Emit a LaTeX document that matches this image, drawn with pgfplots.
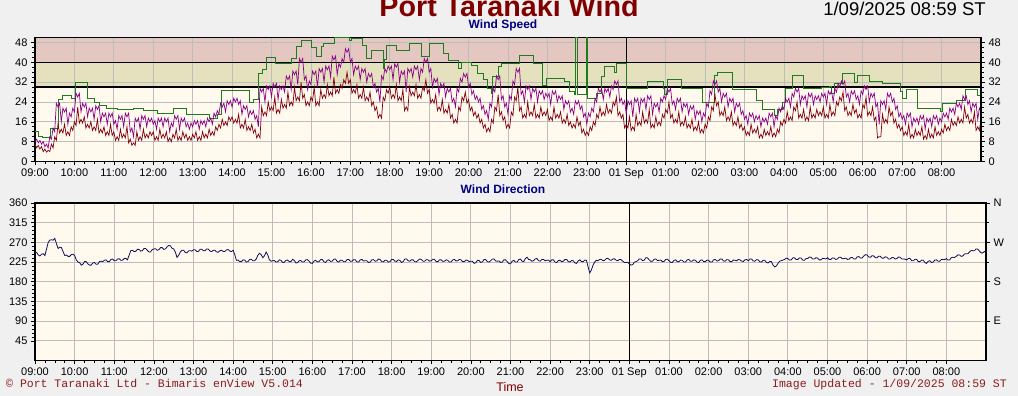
\documentclass[border=0pt]{standalone}
\usepackage{fontspec}
\setmainfont{Liberation Sans}
\newfontfamily\monofont{Liberation Mono}
\usepackage{pgfplots}
\usepackage{pgfplotstable}
\pgfplotsset{compat=1.18}
\usetikzlibrary{calc}
\definecolor{bggray}{HTML}{F0F0F0}
\definecolor{cream}{HTML}{FFF9EE}
\definecolor{pinkband}{HTML}{E5C7C1}
\definecolor{khakiband}{HTML}{E5E1BE}
\definecolor{gridgray}{HTML}{BDBDBD}
\definecolor{darkred}{HTML}{800010}
\definecolor{purp}{HTML}{8A008A}
\definecolor{dgreen}{HTML}{1E7B1E}
\definecolor{navy}{HTML}{000080}
\definecolor{dirnavy}{HTML}{10105A}
\definecolor{titlered}{HTML}{800000}
\definecolor{footred}{HTML}{8C1C1C}

\pgfplotstableread{
t m g d
0 7 8 248
2.5 5.5 9 247
5 6.5 7.5 241
7.5 5 8.5 239
10 6 7 243
12.5 4 8 244
15 5 6 240
17.5 3.8 7 255
20 4.5 5.5 270
22.5 4 10 275
25 7 9 276
27.5 5.5 13.5 275
30 10 12 279
32.5 8.5 23.5 267
35 15 22 256
37.5 11.5 23.5 259
40 13 16 258
42.5 11.5 21.5 249
45 15 20 240
47.5 10.5 21.5 241
50 12 15 238
52.5 10.5 19.5 238
55 14 18 242
57.5 12.5 21.5 243
60 16 20 240
62.5 14.5 27.5 230
65 22 26 225
67.5 15.5 27.5 224
70 17 20 218
72.5 15.5 23.5 220
75 18 22 226
77.5 13.5 23.5 226
80 15 18 221
82.5 13.5 21.5 218
85 16 20 218
87.5 12.5 21.5 223
90 14 17 224
92.5 12.5 22.5 220
95 17 21 220
97.5 11.5 22.5 226
100 13 16 227
102.5 11.5 19.5 226
105 14 18 229
107.5 10.5 19.5 230
110 12 15 226
112.5 10.5 19.5 226
115 15 18 231
117.5 10.5 19.5 232
120 12 15 228
122.5 8.5 16.5 228
125 10 13 232
127.5 8.5 18.5 232.5
130 13 17 229
132.5 9.5 18.5 229
135 11 14 233
137.5 9.5 19.5 233.5
140 14 18 230
142.5 7.5 19.5 240.5
145 9 12 251
147.5 6.5 13.5 252
150 7.5 10 249
152.5 6.5 17.5 249.5
155 12 16 254
157.5 8.5 17.5 254
160 10 13 250
162.5 8.5 18.5 251
165 13 17 256
167.5 9.5 18.5 256
170 11 14 252
172.5 9.5 17.5 248
175 12 16 248
177.5 10.5 17.5 253.5
180 12 15 255
182.5 8.5 16.5 255.5
185 10 13 252
187.5 8.5 17.5 253
190 13 16 258
192.5 9.5 17.5 258
195 11 14 254
197.5 9.5 17.5 255
200 12 16 260
202.5 8 17.5 263
205 9.5 12 262
207.5 8 15.5 256.5
210 11 14 255
212.5 9.5 18.5 247.5
215 13 17 236
217.5 8.5 18.5 240
220 10 13 248
222.5 8.5 17.5 252
225 12 16 252
227.5 9.5 17.5 247
230 11 14 246
232.5 8.5 15.5 250.5
235 10 13 251
237.5 8.5 15.5 250
240 11 14 253
242.5 9.5 16.5 253
245 12 15 249
247.5 8.5 16.5 249.5
250 10 13 254
252.5 8.5 16.5 254.5
255 12 15 251
257.5 9.5 16.5 251
260 11 14 255
262.5 9.5 17.5 254.5
265 13 16 250
267.5 10.5 17.5 249
270 12 15 252
272.5 10.5 19.5 252
275 14 18 248
277.5 12.5 20.5 247.5
280 15 19 251
282.5 13.5 23.5 252
285 17 22 249
287.5 14.5 23.5 249
290 16 20 253
292.5 14.5 24.5 253.5
295 18 23 250
297.5 16.5 24.5 249
300 18 22 252
302.5 15.5 25.5 242
305 17 24 229
307.5 15.5 25.5 229.5
310 19 23 226
312.5 13.5 24.5 226
315 15 19 230
317.5 13.5 22.5 229.5
320 17 21 225
322.5 12.5 22.5 226
325 14 18 231
327.5 12.5 20.5 231.5
330 15 19 228
332.5 11.5 20.5 228
335 13 17 232
337.5 9.5 18.5 240.5
340 11 14 245
342.5 9.5 29.5 242
345 22 28 235
347.5 18.5 29.5 239.5
350 20 24 248
352.5 18.5 30.5 241
355 24 29 230
357.5 20.5 30.5 227
360 22 26 228
362.5 20.5 31.5 228.5
365 26 30 225
367.5 19.5 31.5 225.5
370 21 25 230
372.5 19.5 30.5 229
375 25 29 224
377.5 21.5 30.5 224.5
380 23 28 229
382.5 21.5 34.5 229.5
385 28 33 226
387.5 22.5 34.5 226
390 24 29 231
392.5 22.5 36.5 229
395 30 35 223
397.5 24.5 36.5 223.5
400 26 31 228
402.5 24.5 41.5 228.5
405 32 40 225
407.5 25.5 41.5 225.5
410 27 33 230
412.5 22.5 34.5 230.5
415 24 29 227
417.5 22.5 32.5 222.5
420 26 31 222
422.5 24.5 36.5 227.5
425 30 35 229
427.5 22.5 36.5 225.5
430 24 30 226
432.5 22.5 37.5 230.5
435 29 36 231
437.5 25.5 37.5 225.5
440 27 32 224
442.5 25.5 38.5 229
445 31 37 230
447.5 26.5 38.5 226.5
450 28 34 227
452.5 26.5 42.5 231.5
455 34 41 232
457.5 27.5 42.5 226.5
460 29 35 225
462.5 27.5 39.5 229
465 31 38 229
467.5 29.5 41.5 225.5
470 33 40 226
472.5 31.5 45.5 230.5
475 36 44 231
477.5 31.5 45.5 227
480 33 40 227
482.5 27.5 41.5 230.5
485 29 35 230
487.5 27.5 38.5 225.5
490 31 37 225
492.5 25.5 38.5 230
495 27 33 231
497.5 25.5 37.5 227.5
500 30 36 228
502.5 24.5 37.5 228
505 26 32 224
507.5 24.5 35.5 225
510 28 34 230
512.5 22.5 35.5 230.5
515 24 30 227
517.5 20.5 31.5 227.5
520 22 28 232
522.5 17.5 29.5 231
525 19 24 226
527.5 17.5 34.5 225.5
530 26 33 229
532.5 24.5 37.5 229
535 29 36 225
537.5 27.5 38.5 226
540 30 37 231
542.5 25.5 38.5 231
545 27 33 227
547.5 25.5 39.5 226.5
550 31 38 230
552.5 24.5 39.5 229
555 26 32 224
557.5 24.5 36.5 226
560 29 35 232
562.5 20.5 36.5 232
565 22 28 228
567.5 20.5 37.5 227
570 30 36 230
572.5 26.5 37.5 230
575 28 34 226
577.5 26.5 38.5 225.5
580 31 37 229
582.5 25.5 38.5 232
585 27 33 231
587.5 25.5 37.5 227
590 30 36 227
592.5 28.5 41.5 230.5
595 33 40 230
597.5 27.5 41.5 227
600 29 36 228
602.5 23.5 37.5 231.5
605 25 30 231
607.5 23.5 33.5 226
610 27 32 226
612.5 20.5 33.5 230
615 22 27 230
617.5 20.5 31.5 226.5
620 25 30 227
622.5 19.5 31.5 230
625 21 26 229
627.5 19.5 29.5 225
630 23 28 225
632.5 17.5 29.5 230
635 19 24 231
637.5 15.5 25.5 227.5
640 17 22 228
642.5 15.5 29.5 231
645 22 28 230
647.5 20.5 33.5 226
650 26 32 226
652.5 24.5 35.5 229.5
655 28 34 229
657.5 23.5 35.5 226
660 25 30 227
662.5 20.5 31.5 226.5
665 22 27 222
667.5 18.5 28.5 223.5
670 20 25 229
672.5 17.5 26.5 228.5
675 19 24 224
677.5 15.5 25.5 225.5
680 17 21 231
682.5 13.5 22.5 230.5
685 15 19 226
687.5 12 20.5 225
690 13.5 17 228
692.5 12 23.5 232
695 17 22 232
697.5 15.5 29.5 227.5
700 22 28 227
702.5 20.5 34.5 227.5
705 27 33 224
707.5 18.5 34.5 225
710 20 25 230
712.5 16.5 26.5 230
715 18 22 226
717.5 13.5 23.5 221.5
720 15 19 221
722.5 13.5 26.5 227
725 20 25 229
727.5 18.5 32.5 225
730 26 31 225
732.5 24.5 37.5 230.5
735 30 36 232
737.5 20.5 37.5 227
740 22 27 226
742.5 17.5 28.5 233
745 19 24 236
747.5 17.5 30.5 231
750 24 29 230
752.5 18.5 30.5 227
755 20 25 228
757.5 18.5 29.5 232.5
760 23 28 233
762.5 17.5 29.5 228
765 19 24 227
767.5 17.5 28.5 231
770 22 27 231
772.5 18.5 28.5 228
775 20 25 229
777.5 18.5 27.5 229.5
780 21 26 226
782.5 16.5 27.5 230
785 18 23 230
787.5 16.5 28.5 225
790 22 27 224
792.5 17.5 28.5 228.5
795 19 24 229
797.5 17.5 26.5 226
800 20 25 227
802.5 15.5 26.5 231
805 17 21 231
807.5 15.5 24.5 226
810 19 23 225
812.5 14.5 24.5 228.5
815 16 20 228
817.5 13.5 21.5 223
820 15 19 222
822.5 13.5 24.5 228
825 18 23 230
827.5 14.5 24.5 226
830 16 21 226
832.5 11.5 22.5 229.5
835 13 18 229
837.5 10.5 19.5 214
840 12 15 200
842.5 10.5 19.5 207
845 14 18 218
847.5 12.5 21.5 225
850 16 20 229
852.5 14.5 25.5 228
855 19 24 231
857.5 17.5 29.5 231.5
860 22 28 228
862.5 18.5 29.5 229
865 20 25 233
867.5 18.5 29.5 233.5
870 23 28 230
872.5 19.5 29.5 229
875 21 26 232
877.5 19.5 30.5 232.5
880 24 29 229
882.5 22.5 32.5 228
885 26 31 231
887.5 18.5 32.5 230.5
890 20 24 227
892.5 17.5 25.5 224
895 19 23 224
897.5 13.5 24.5 224.5
900 15 19 221
902.5 13.5 24.5 218
905 18 23 219
907.5 12.5 24.5 224.5
910 14 18 226
912.5 12.5 25.5 228
915 19 24 232
917.5 14.5 25.5 232
920 16 20 228
922.5 14.5 25.5 229.5
925 20 24 235
927.5 15.5 25.5 234.5
930 17 21 230
932.5 15.5 26.5 226.5
935 21 25 227
937.5 13.5 26.5 231.5
940 15 19 232
942.5 13.5 23.5 228.5
945 18 22 229
947.5 14.5 23.5 229.5
950 16 20 226
952.5 14.5 25.5 226.5
955 19 24 231
957.5 17.5 26.5 231.5
960 21 25 228
962.5 19.5 29.5 224
965 24 28 224
967.5 17.5 29.5 229
970 19 23 230
972.5 15.5 24.5 226
975 17 21 226
977.5 15.5 25.5 229.5
980 20 24 229
982.5 14.5 25.5 225
985 16 20 225
987.5 14.5 23.5 230
990 18 22 231
992.5 13.5 23.5 227
995 15 19 227
997.5 13.5 22.5 230
1000 17 21 229
1002.5 12.5 22.5 224.5
1005 14 17 224
1007.5 12.5 20.5 229
1010 16 19 230
1012.5 11.5 20.5 226
1015 13 16 226
1017.5 11.5 19.5 229.5
1020 15 18 229
1022.5 13.5 23.5 225
1025 18 22 225
1027.5 16.5 28.5 230
1030 22 27 231
1032.5 20.5 32.5 227.5
1035 27 31 228
1037.5 22.5 32.5 232
1040 24 28 232
1042.5 18.5 29.5 227.5
1045 20 24 227
1047.5 18.5 27.5 230.5
1050 22 26 230
1052.5 16.5 27.5 226
1055 18 22 226
1057.5 16.5 25.5 229.5
1060 20 24 229
1062.5 14.5 25.5 228
1065 16 20 231
1067.5 14.5 23.5 230
1070 18 22 227
1072.5 13.5 23.5 226.5
1075 15 19 230
1077.5 12.5 20.5 231
1080 14 17 228
1082.5 10.5 18.5 232
1085 12 15 232
1087.5 10.5 19.5 227.5
1090 15 18 227
1092.5 11.5 19.5 230.5
1095 13 16 230
1097.5 11.5 18.5 225.5
1100 14 17 225
1102.5 9.5 18.5 229
1105 11 14 229
1107.5 9.5 17.5 224
1110 13 16 223
1112.5 10.5 17.5 226.5
1115 12 15 226
1117.5 10.5 19.5 218
1120 14 18 214
1122.5 10 19.5 216
1125 11.5 14 222
1127.5 10 18.5 227
1130 13 17 228
1132.5 11.5 21.5 229.5
1135 16 20 231
1137.5 14.5 22.5 234
1140 17 21 233
1142.5 15.5 25.5 229.5
1145 20 24 230
1147.5 16.5 25.5 234.5
1150 18 22 235
1152.5 16.5 27.5 231
1155 22 26 231
1157.5 20.5 29.5 234.5
1160 24 28 234
1162.5 17.5 29.5 229.5
1165 19 23 229
1167.5 17.5 26.5 233
1170 21 25 233
1172.5 16.5 26.5 236.5
1175 18 22 236
1177.5 16.5 27.5 232
1180 22 26 232
1182.5 17.5 27.5 235
1185 19 23 234
1187.5 17.5 26.5 230
1190 21 25 230
1192.5 18.5 26.5 233.5
1195 20 24 233
1197.5 18.5 27.5 232
1200 22 26 235
1202.5 17.5 27.5 231
1205 19 23 231
1207.5 17.5 28.5 234.5
1210 23 27 234
1212.5 18.5 28.5 231
1215 20 24 232
1217.5 18.5 29.5 236
1220 24 28 236
1222.5 22.5 31.5 232.5
1225 26 30 233
1227.5 24.5 32.5 234
1230 28 31 231
1232.5 20.5 32.5 231.5
1235 22 26 235
1237.5 18.5 27.5 235.5
1240 20 24 232
1242.5 18.5 28.5 232
1245 23 27 237
1247.5 19.5 28.5 237.5
1250 21 25 234
1252.5 17.5 26.5 234.5
1255 19 23 239
1257.5 17.5 28.5 242
1260 23 27 241
1262.5 21.5 30.5 236.5
1265 26 29 236
1267.5 18.5 30.5 239.5
1270 20 24 239
1272.5 18.5 27.5 235
1275 22 26 235
1277.5 16.5 27.5 238.5
1280 18 22 238
1282.5 9.5 23.5 234
1285 10 15 234
1287.5 10 24.5 237
1290 19 23 236
1292.5 15.5 24.5 232
1295 17 21 232
1297.5 15.5 27.5 235.5
1300 22 26 235
1302.5 18.5 27.5 232
1305 20 24 233
1307.5 15.5 25.5 236.5
1310 17 21 236
1312.5 13.5 22.5 232
1315 15 18 232
1317.5 12.5 19.5 231.5
1320 14 17 230
1322.5 10.5 18.5 233
1325 12 15 233
1327.5 10.5 19.5 228
1330 15 18 228
1332.5 9.5 19.5 231.5
1335 11 14 231
1337.5 9.5 17.5 226
1340 13 16 226
1342.5 10.5 17.5 229.5
1345 12 15 229
1347.5 10.5 18.5 224
1350 14 17 222
1352.5 9 18.5 227
1355 10.5 13 228
1357.5 9 17.5 224
1360 13 16 225
1362.5 9.5 17.5 229.5
1365 11 14 230
1367.5 9.5 18.5 227
1370 14 17 227
1372.5 10.5 18.5 231
1375 12 15 231
1377.5 10.5 17.5 230.5
1380 13 16 233
1382.5 11.5 19.5 229.5
1385 15 18 230
1387.5 12.5 19.5 235
1390 14 17 236
1392.5 12.5 21.5 235.5
1395 17 20 238
1397.5 14.5 21.5 241.5
1400 16 19 241
1402.5 14.5 23.5 238
1405 18 22 239
1407.5 15.5 23.5 243.5
1410 17 21 244
1412.5 15.5 26.5 244
1415 22 25 248
1417.5 17.5 26.5 251.5
1420 19 23 251
1422.5 15.5 24.5 251
1425 17 20 255
1427.5 15.5 23.5 254.5
1430 20 22 250
1432.5 12.5 23.5 246
1435 14 17 246
1437.5 12.5 21.5 249
1440 17 20 248
}\wind

\pgfplotstableread{
t v
0 12
5 10
12 9.5
23 13.5
36 25
42 26.5
56 25.5
61 31.8
80 25.5
90 24
98 22.5
109 21.5
126 21
150 21.5
165 20.5
187 19.5
210 21.3
231 19
266 17.5
278 19
284 28.5
327 24
333 25
340 35.5
346 37
352 41.8
366 39.5
390 41.5
398 46.2
406 48.9
421 46
428 42.5
436 46.2
439 47.5
456 50
479 49
481 49.6
499 46.8
505 41.5
512 44.8
530 37.5
532 41
535 46.8
550 44.8
570 47.5
588 42.2
601 47.5
621 43.5
629 40.9
644 37.5
649 40.1
665 38.8
674 35.6
682 32.9
689 29.5
695 27.5
697 34.2
705 38.2
710 39.6
738 42.8
758 39.6
773 30.7
778 33.3
806 32.3
814 28.3
821 27
823 50
825 27
839 50
841 25.3
854 27.5
862 34.2
867 38.2
882 36
885 39.6
901 29.5
933 32.3
956 29.5
958 27
963 33
984 29.4
1016 24
1034 34.8
1039 35.8
1062 29
1098 24.5
1108 21.1
1126 18.6
1130 21
1138 23.8
1143 29.5
1153 34.5
1169 29.3
1197 30
1210 30.3
1213 27.5
1217 31.5
1229 35.7
1247 31.8
1252 34.5
1270 32.3
1290 31.5
1318 28.3
1321 25.6
1326 29
1344 21.2
1378 20
1381 23.4
1403 24.8
1417 29
1435 26.5
1440 26.5
}\maxwind

\pgfplotsset{
  windbase/.style={
    scale only axis,
    xmin=0, xmax=1440,
    xtick={0,60,...,1380},
    xticklabels={09:00,10:00,11:00,12:00,13:00,14:00,15:00,16:00,17:00,18:00,19:00,20:00,21:00,22:00,23:00,01 Sep,01:00,02:00,03:00,04:00,05:00,06:00,07:00,08:00},
    minor x tick num=3,
    tick align=outside,
    xtick pos=left, ytick pos=left,
    major tick length=4pt, minor tick length=2.5pt,
    every tick/.style={black, line width=0.6pt},
    grid=major,
    major grid style={gridgray, line width=0.8pt},
    axis line style={black, line width=1.6pt},
    tick label style={font=\fontsize{11}{11}\selectfont},
    /pgf/number format/assume math mode=true,
  },
  twinbase/.style={
    scale only axis,
    xmin=0, xmax=1440,
    hide x axis,
    axis y line*=right,
    tick align=outside,
    major tick length=4pt, minor tick length=2.5pt,
    every tick/.style={black, line width=0.6pt},
    axis line style={black, line width=1.6pt},
    tick label style={font=\fontsize{11}{11}\selectfont},
    /pgf/number format/assume math mode=true,
  },
}

\begin{document}
\begin{tikzpicture}
\fill[bggray] (0pt,0pt) rectangle (1018pt,396pt);
\begin{scope}
\clip (0pt,0pt) rectangle (1018pt,396pt);
\node[anchor=base, inner sep=0, font=\fontsize{28.7}{30}\selectfont\bfseries, text=titlered] at (509pt,379pt) {Port Taranaki Wind};
\end{scope}
\node[anchor=base east, inner sep=0, font=\fontsize{18.5}{20}\selectfont, text=black] at (986pt,380pt) {1/09/2025 08:59 ST};
\node[anchor=base, inner sep=0, font=\fontsize{12}{12}\selectfont\bfseries, text=navy] at (503pt,367.7pt) {Wind Speed};
\node[anchor=base, inner sep=0, font=\fontsize{12}{12}\selectfont\bfseries, text=navy] at (503pt,202.8pt) {Wind Direction};
\node[anchor=base, inner sep=0, font=\fontsize{12.5}{12}\selectfont, text=titlered] at (510pt,4.5pt) {Time};
\node[anchor=base west, inner sep=0, font=\monofont\fontsize{11.5}{12}\selectfont, text=footred] at (6pt,8.7pt) {© Port Taranaki Ltd - Bimaris enView V5.014};
\node[anchor=base east, inner sep=0, font=\monofont\fontsize{11.5}{12}\selectfont, text=footred] at (1007pt,8.7pt) {Image Updated - 1/09/2025 08:59 ST};

% ---------------- Wind speed ----------------
\begin{axis}[windbase,
  at={(35pt,234.5pt)}, anchor=south west,
  width=946pt, height=124pt,
  ymin=0, ymax=50,
  ytick={0,8,...,48}, minor y tick num=3,
  axis background/.style={fill=cream, path picture={
    \fill[khakiband] ($(path picture bounding box.south west)!0.6!(path picture bounding box.north west)$) rectangle ($(path picture bounding box.south east)!0.8!(path picture bounding box.north east)$);
    \fill[pinkband] ($(path picture bounding box.south west)!0.8!(path picture bounding box.north west)$) rectangle (path picture bounding box.north east);
  }},
]
\addplot[black, line width=1.2pt, forget plot] coordinates {(0,30) (1440,30)};
\addplot[black, line width=1.2pt, forget plot] coordinates {(0,40) (1440,40)};
\addplot[black, line width=1pt, forget plot] coordinates {(900,0) (900,50)};
\addplot[dgreen, line width=0.9pt, const plot] table[x=t, y=v] {\maxwind};
\addplot[purp, line width=0.7pt] table[x=t, y=g] {\wind};
\addplot[darkred, line width=0.7pt] table[x=t, y=m] {\wind};
\end{axis}
\begin{axis}[twinbase,
  at={(35pt,234.5pt)}, anchor=south west,
  width=946pt, height=124pt,
  ymin=0, ymax=50,
  ytick={0,8,...,48}, minor y tick num=3,
]
\addplot[draw=none] coordinates {(0,0) (1440,50)};
\end{axis}

% ---------------- Wind direction ----------------
\begin{axis}[windbase,
  at={(35pt,35.5pt)}, anchor=south west,
  width=951pt, height=157.5pt,
  ymin=0, ymax=360,
  ytick={45,90,...,360}, minor y tick num=4,
  axis background/.style={fill=cream},
]
\addplot[black, line width=1pt, forget plot] coordinates {(900,0) (900,360)};
\addplot[dirnavy, line width=0.8pt] table[x=t, y=d] {\wind};
\end{axis}
\begin{axis}[twinbase,
  at={(35pt,35.5pt)}, anchor=south west,
  width=951pt, height=157.5pt,
  ymin=0, ymax=360,
  ytick={90,180,270,360}, yticklabels={E,S,W,N}, minor y tick num=1,
]
\addplot[draw=none] coordinates {(0,0) (1440,360)};
\end{axis}
\pgfresetboundingbox
\path[use as bounding box] (0pt,0pt) rectangle (1018pt,396pt);
\end{tikzpicture}
\end{document}
